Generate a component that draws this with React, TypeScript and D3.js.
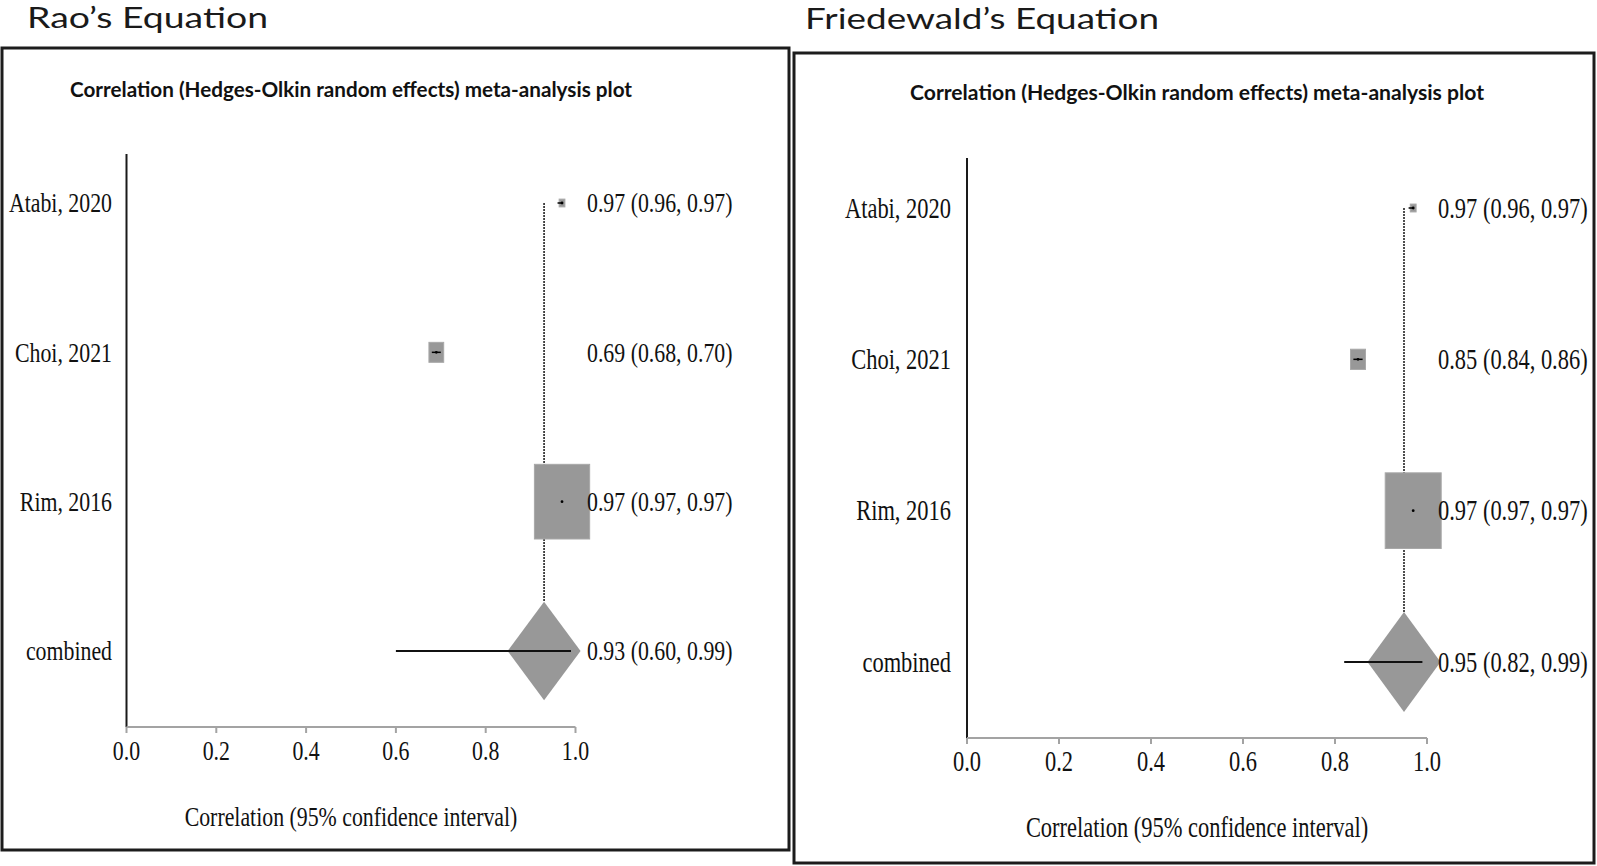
import React from "react";
import * as d3 from "d3";

// ---- data ----
const studies = ["Atabi, 2020", "Choi, 2021", "Rim, 2016"];
const combinedLabel = "combined";
const xTicks = [0, 0.2, 0.4, 0.6, 0.8, 1.0];

const raoEst = [0.97, 0.69, 0.97];
const raoLo = [0.96, 0.68, 0.97];
const raoHi = [0.97, 0.7, 0.97];
const raoWeights = [1.0, 6.6, 92.4];
const raoCombined = [0.93, 0.6, 0.99]; // est, lo, hi

const friEst = [0.97, 0.85, 0.97];
const friLo = [0.96, 0.84, 0.97];
const friHi = [0.97, 0.86, 0.97];
const friWeights = [1.0, 6.6, 92.4];
const friCombined = [0.95, 0.82, 0.99];

const headers = ["Rao’s Equation", "Friedewald’s Equation"];
const plotTitle = "Correlation (Hedges-Olkin random effects) meta-analysis plot";
const axisTitle = "Correlation (95% confidence interval)";

// ---- layout (styles only) ----
const panels = [
  {
    header: headers[0], headerX: 27, headerY: 28, headerLen: 241,
    box: [2, 48, 789, 850],
    titleY: 97, titleLen: 562,
    xRange: [126.5, 575.5], yRange: [203, 651],
    axisY: 727, yAxisTop: 154,
    labelX: 112, valueX: 587, fs: 28,
    est: raoEst, lo: raoLo, hi: raoHi, w: raoWeights, comb: raoCombined,
  },
  {
    header: headers[1], headerX: 805, headerY: 29, headerLen: 354,
    box: [794, 53, 1594, 863],
    titleY: 100, titleLen: 574,
    xRange: [967, 1427], yRange: [208, 662],
    axisY: 738, yAxisTop: 158,
    labelX: 951, valueX: 1438, fs: 28.8,
    est: friEst, lo: friLo, hi: friHi, w: friWeights, comb: friCombined,
  },
];

const SERIF = "'Liberation Serif', 'Times New Roman', serif";
const SANS = "Lato, 'Open Sans', sans-serif";
const SX = 0.78;
const GRAY = "#989898";
const f2 = d3.format(".2f");
const f1 = d3.format(".1f");

function SerifText({ x, y, anchor, fs, children }: any) {
  return (
    <g transform={`translate(${x},${y}) scale(${SX},1)`}>
      <text x={0} y={0} textAnchor={anchor} fontFamily={SERIF} fontSize={fs} fill="#111">
        {children}
      </text>
    </g>
  );
}

function Panel({ p }: any) {
  const x = d3.scaleLinear().domain([0, 1]).range(p.xRange);
  const rows = [...studies, combinedLabel];
  const y = d3.scalePoint().domain(rows).range(p.yRange);
  const step = y.step();
  const maxW = d3.max(p.w as number[]) as number;
  const maxH = step * 0.5;
  const dHW = 36.5;
  const dHH = step * 0.33;
  const cy = y(combinedLabel) as number;
  const cx = x(p.comb[0]);
  const base = p.fs * 0.33;
  const [bx0, by0, bx1, by1] = p.box;
  const midX = (p.xRange[0] + p.xRange[1]) / 2;
  const diamond = d3.line()([
    [cx - dHW, cy], [cx, cy - dHH], [cx + dHW, cy], [cx, cy + dHH], [cx - dHW, cy],
  ]) as string;

  return (
    <g>
      <text x={p.headerX} y={p.headerY} fontFamily={SANS} fontSize={28.5} fill="#1a1a1a"
        textLength={p.headerLen} lengthAdjust="spacingAndGlyphs">{p.header}</text>
      <rect x={bx0} y={by0} width={bx1 - bx0} height={by1 - by0} fill="#fff" stroke="#1c1c1c" strokeWidth={3} />
      <text x={midX} y={p.titleY} textAnchor="middle" fontFamily={SANS} fontWeight={700} fontSize={21}
        fill="#111" textLength={p.titleLen} lengthAdjust="spacingAndGlyphs">{plotTitle}</text>

      {/* y axis line */}
      <line x1={p.xRange[0]} x2={p.xRange[0]} y1={p.yAxisTop} y2={p.axisY} stroke="#1a1a1a" strokeWidth={2} />
      {/* x axis */}
      <line x1={p.xRange[0]} x2={p.xRange[1]} y1={p.axisY} y2={p.axisY} stroke="#a3a3a3" strokeWidth={2} />
      {xTicks.map((t) => (
        <g key={t}>
          <line x1={x(t)} x2={x(t)} y1={p.axisY} y2={p.axisY + 6} stroke="#a3a3a3" strokeWidth={2} />
          <SerifText x={x(t)} y={p.axisY + 33} anchor="middle" fs={p.fs}>{f1(t)}</SerifText>
        </g>
      ))}
      <SerifText x={midX} y={p.axisY + 99} anchor="middle" fs={p.fs}>{axisTitle}</SerifText>

      {/* reference line at combined estimate */}
      <line x1={cx} x2={cx} y1={y(studies[0]) as number} y2={cy - dHH} stroke="#222" strokeWidth={1.6}
        strokeDasharray="2,1" />

      {studies.map((s, i) => {
        const yy = y(s) as number;
        const h = maxH * Math.sqrt(p.w[i] / maxW);
        const w = h * 0.74;
        const xx = x(p.est[i]);
        return (
          <g key={s}>
            <rect x={xx - w / 2} y={yy - h / 2} width={w} height={h} fill={GRAY} stroke="#a8a8a8" strokeWidth={1} />
            <line x1={x(p.lo[i])} x2={x(p.hi[i])} y1={yy} y2={yy} stroke="#000" strokeWidth={1.5} />
            <circle cx={xx} cy={yy} r={1.4} fill="#000" />
            <SerifText x={p.labelX} y={yy + base} anchor="end" fs={p.fs}>{s}</SerifText>
            <SerifText x={p.valueX} y={yy + base} anchor="start" fs={p.fs}>
              {`${f2(p.est[i])} (${f2(p.lo[i])}, ${f2(p.hi[i])})`}
            </SerifText>
          </g>
        );
      })}

      <path d={diamond} fill={GRAY} stroke="none" />
      <line x1={x(p.comb[1])} x2={x(p.comb[2])} y1={cy} y2={cy} stroke="#111" strokeWidth={2} />
      <SerifText x={p.labelX} y={cy + base} anchor="end" fs={p.fs}>{combinedLabel}</SerifText>
      <SerifText x={p.valueX} y={cy + base} anchor="start" fs={p.fs}>
        {`${f2(p.comb[0])} (${f2(p.comb[1])}, ${f2(p.comb[2])})`}
      </SerifText>
    </g>
  );
}

export default function App() {
  return (
    <svg width={1597} height={866} style={{ position: "absolute", left: 0, top: 0, background: "#fff" }}>
      <rect x={0} y={0} width={1597} height={866} fill="#fff" />
      {panels.map((p, i) => (
        <Panel key={i} p={p} />
      ))}
    </svg>
  );
}
